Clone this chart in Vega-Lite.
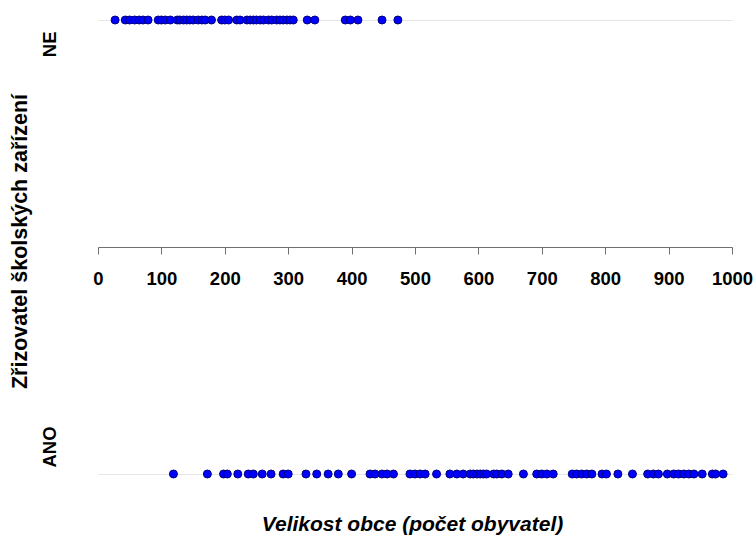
{
  "$schema": "https://vega.github.io/schema/vega-lite/v6.json",
  "width": 634,
  "height": 454,
  "autosize": "none",
  "padding": {"left": 98, "top": 20, "right": 23, "bottom": 62},
  "background": "white",
  "config": {"view": {"stroke": null}, "font": "Liberation Sans"},
  "data": {"values": [
    {"obyvatel": 27, "zrizovatel": "NE"}, {"obyvatel": 43, "zrizovatel": "NE"}, {"obyvatel": 50, "zrizovatel": "NE"}, {"obyvatel": 58, "zrizovatel": "NE"}, {"obyvatel": 65, "zrizovatel": "NE"}, {"obyvatel": 71, "zrizovatel": "NE"}, {"obyvatel": 79, "zrizovatel": "NE"}, {"obyvatel": 95, "zrizovatel": "NE"}, {"obyvatel": 100, "zrizovatel": "NE"}, {"obyvatel": 106, "zrizovatel": "NE"}, {"obyvatel": 114, "zrizovatel": "NE"}, {"obyvatel": 125, "zrizovatel": "NE"}, {"obyvatel": 129, "zrizovatel": "NE"}, {"obyvatel": 135, "zrizovatel": "NE"}, {"obyvatel": 140, "zrizovatel": "NE"}, {"obyvatel": 145, "zrizovatel": "NE"}, {"obyvatel": 150, "zrizovatel": "NE"}, {"obyvatel": 158, "zrizovatel": "NE"}, {"obyvatel": 164, "zrizovatel": "NE"}, {"obyvatel": 169, "zrizovatel": "NE"}, {"obyvatel": 179, "zrizovatel": "NE"}, {"obyvatel": 195, "zrizovatel": "NE"}, {"obyvatel": 200, "zrizovatel": "NE"}, {"obyvatel": 206, "zrizovatel": "NE"}, {"obyvatel": 219, "zrizovatel": "NE"}, {"obyvatel": 224, "zrizovatel": "NE"}, {"obyvatel": 235, "zrizovatel": "NE"}, {"obyvatel": 240, "zrizovatel": "NE"}, {"obyvatel": 245, "zrizovatel": "NE"}, {"obyvatel": 250, "zrizovatel": "NE"}, {"obyvatel": 256, "zrizovatel": "NE"}, {"obyvatel": 261, "zrizovatel": "NE"}, {"obyvatel": 269, "zrizovatel": "NE"}, {"obyvatel": 274, "zrizovatel": "NE"}, {"obyvatel": 282, "zrizovatel": "NE"}, {"obyvatel": 287, "zrizovatel": "NE"}, {"obyvatel": 292, "zrizovatel": "NE"}, {"obyvatel": 298, "zrizovatel": "NE"}, {"obyvatel": 303, "zrizovatel": "NE"}, {"obyvatel": 308, "zrizovatel": "NE"}, {"obyvatel": 330, "zrizovatel": "NE"}, {"obyvatel": 342, "zrizovatel": "NE"}, {"obyvatel": 390, "zrizovatel": "NE"}, {"obyvatel": 398, "zrizovatel": "NE"}, {"obyvatel": 410, "zrizovatel": "NE"}, {"obyvatel": 448, "zrizovatel": "NE"}, {"obyvatel": 473, "zrizovatel": "NE"},
    {"obyvatel": 119, "zrizovatel": "ANO"}, {"obyvatel": 172.5, "zrizovatel": "ANO"}, {"obyvatel": 198, "zrizovatel": "ANO"}, {"obyvatel": 204, "zrizovatel": "ANO"}, {"obyvatel": 220.5, "zrizovatel": "ANO"}, {"obyvatel": 237, "zrizovatel": "ANO"}, {"obyvatel": 245, "zrizovatel": "ANO"}, {"obyvatel": 259, "zrizovatel": "ANO"}, {"obyvatel": 273, "zrizovatel": "ANO"}, {"obyvatel": 292, "zrizovatel": "ANO"}, {"obyvatel": 300, "zrizovatel": "ANO"}, {"obyvatel": 328, "zrizovatel": "ANO"}, {"obyvatel": 345, "zrizovatel": "ANO"}, {"obyvatel": 363, "zrizovatel": "ANO"}, {"obyvatel": 379, "zrizovatel": "ANO"}, {"obyvatel": 400, "zrizovatel": "ANO"}, {"obyvatel": 429, "zrizovatel": "ANO"}, {"obyvatel": 437, "zrizovatel": "ANO"}, {"obyvatel": 448, "zrizovatel": "ANO"}, {"obyvatel": 456, "zrizovatel": "ANO"}, {"obyvatel": 466, "zrizovatel": "ANO"}, {"obyvatel": 492, "zrizovatel": "ANO"}, {"obyvatel": 500, "zrizovatel": "ANO"}, {"obyvatel": 508, "zrizovatel": "ANO"}, {"obyvatel": 516, "zrizovatel": "ANO"}, {"obyvatel": 534, "zrizovatel": "ANO"}, {"obyvatel": 555, "zrizovatel": "ANO"}, {"obyvatel": 566, "zrizovatel": "ANO"}, {"obyvatel": 576, "zrizovatel": "ANO"}, {"obyvatel": 587, "zrizovatel": "ANO"}, {"obyvatel": 592, "zrizovatel": "ANO"}, {"obyvatel": 598, "zrizovatel": "ANO"}, {"obyvatel": 603, "zrizovatel": "ANO"}, {"obyvatel": 608, "zrizovatel": "ANO"}, {"obyvatel": 613, "zrizovatel": "ANO"}, {"obyvatel": 624, "zrizovatel": "ANO"}, {"obyvatel": 629, "zrizovatel": "ANO"}, {"obyvatel": 637, "zrizovatel": "ANO"}, {"obyvatel": 647, "zrizovatel": "ANO"}, {"obyvatel": 671, "zrizovatel": "ANO"}, {"obyvatel": 692, "zrizovatel": "ANO"}, {"obyvatel": 700, "zrizovatel": "ANO"}, {"obyvatel": 708, "zrizovatel": "ANO"}, {"obyvatel": 718, "zrizovatel": "ANO"}, {"obyvatel": 748, "zrizovatel": "ANO"}, {"obyvatel": 755, "zrizovatel": "ANO"}, {"obyvatel": 763, "zrizovatel": "ANO"}, {"obyvatel": 771, "zrizovatel": "ANO"}, {"obyvatel": 779, "zrizovatel": "ANO"}, {"obyvatel": 795, "zrizovatel": "ANO"}, {"obyvatel": 802, "zrizovatel": "ANO"}, {"obyvatel": 820, "zrizovatel": "ANO"}, {"obyvatel": 843, "zrizovatel": "ANO"}, {"obyvatel": 867, "zrizovatel": "ANO"}, {"obyvatel": 876, "zrizovatel": "ANO"}, {"obyvatel": 884, "zrizovatel": "ANO"}, {"obyvatel": 898, "zrizovatel": "ANO"}, {"obyvatel": 908, "zrizovatel": "ANO"}, {"obyvatel": 916, "zrizovatel": "ANO"}, {"obyvatel": 924, "zrizovatel": "ANO"}, {"obyvatel": 932, "zrizovatel": "ANO"}, {"obyvatel": 940, "zrizovatel": "ANO"}, {"obyvatel": 953, "zrizovatel": "ANO"}, {"obyvatel": 969, "zrizovatel": "ANO"}, {"obyvatel": 974, "zrizovatel": "ANO"}, {"obyvatel": 986, "zrizovatel": "ANO"}
  ]},
  "mark": {"type": "circle", "size": 64, "fill": "#0000FF", "stroke": "#000080", "strokeWidth": 1, "opacity": 1},
  "encoding": {
    "x": {
      "field": "obyvatel", "type": "quantitative",
      "scale": {"domain": [0, 1000], "nice": false},
      "axis": {
        "orient": "bottom", "offset": -227,
        "values": [0, 100, 200, 300, 400, 500, 600, 700, 800, 900, 1000],
        "format": "d",
        "grid": false,
        "domainColor": "#707070", "tickColor": "#707070", "tickSize": 7,
        "labelPadding": 15, "labelFontSize": 18.5, "labelFontWeight": "bold", "labelColor": "black",
        "labelFlush": false, "labelOverlap": false,
        "title": "Velikost obce (počet obyvatel)",
        "titleFontSize": 21, "titleFontWeight": "bold", "titleFontStyle": "italic", "titleColor": "black",
        "titleBaseline": "alphabetic", "titleY": 283, "titleX": 314
      }
    },
    "y": {
      "field": "zrizovatel", "type": "nominal",
      "scale": {"type": "point", "domain": ["NE", "ANO"], "padding": 0},
      "axis": {
        "domain": false, "ticks": false, "tickSize": 0,
        "grid": true, "gridColor": "#e6e6e6",
        "labelAngle": -90, "labelPadding": 43, "labelBaseline": "alphabetic",
        "labelAlign": {"condition": {"test": "datum.value === 'NE'", "value": "right"}, "value": "left"},
        "labelOffset": {"condition": {"test": "datum.value === 'NE'", "value": 11}, "value": -7},
        "labelFontSize": 18.5, "labelFontWeight": "bold", "labelColor": "black",
        "title": "Zřizovatel školských zařízení",
        "titleFontSize": 21.5, "titleFontWeight": "bold", "titleColor": "black",
        "titleAngle": -90, "titleBaseline": "alphabetic", "titleAlign": "center",
        "titleX": -72, "titleY": 221
      }
    }
  }
}
